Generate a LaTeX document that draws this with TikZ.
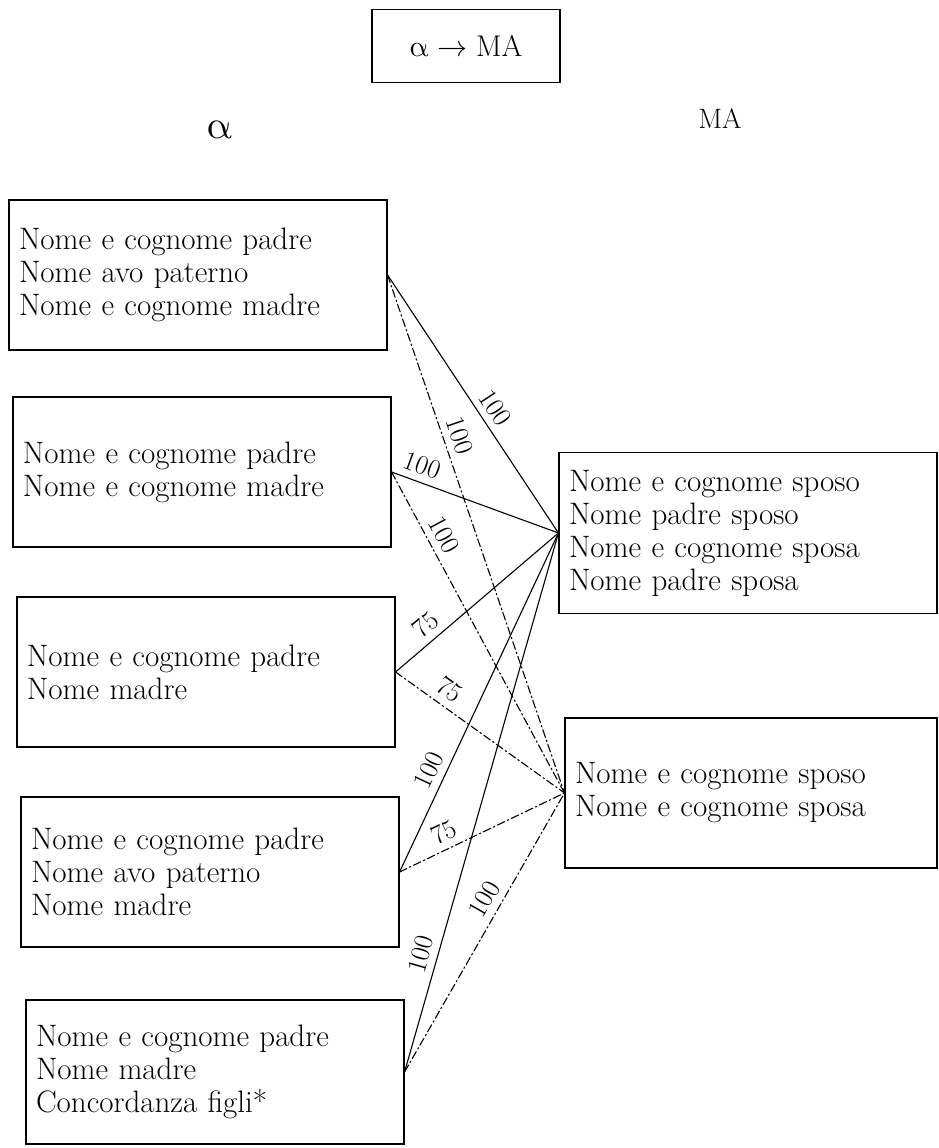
\documentclass[tikz,border=0pt]{standalone}
\usepackage{amsmath}
\usepackage{unicode-math}
\usepackage{tikz}

\tikzset{
  riquadro/.style={draw,line width=1.1pt,align=left,inner xsep=10pt,
                   minimum height=150pt,text width=358pt,
                   font=\fontsize{31}{33}\selectfont},
  legame/.style={line width=1.1pt},
  tratteggio/.style={legame,dash pattern=on 8pt off 3pt on 1.5pt off 3pt},
  peso/.style={sloped,above=6pt,inner sep=1pt,font=\fontsize{27}{29}\selectfont}
}

\begin{document}
\begin{tikzpicture}[x=1pt,y=-1pt,line cap=round]
  \useasboundingbox (0,0) rectangle (939,1148);
  % --- titolo e intestazioni ---
  \node[draw,line width=1.1pt,minimum width=188pt,minimum height=73pt,
        font=\fontsize{30}{33}\selectfont] (titolo) at (466,46)
        {$\upalpha\rightarrow\mathrm{MA}$};
  \node[font=\fontsize{40}{42}\selectfont] (alfa) at (220,130) {$\upalpha$};
  \node[font=\fontsize{28}{30}\selectfont] (ma) at (720,119) {MA};
  % --- campi di alfa (colonna sinistra) ---
  \node[riquadro] (l1) at (198,275)
        {Nome e cognome padre\\Nome avo paterno\\Nome e cognome madre};
  \node[riquadro] (l2) at (202,472)
        {Nome e cognome padre\\Nome e cognome madre};
  \node[riquadro] (l3) at (206,672)
        {Nome e cognome padre\\Nome madre};
  \node[riquadro] (l4) at (210,872)
        {Nome e cognome padre\\Nome avo paterno\\Nome madre};
  \node[riquadro,minimum height=144pt] (l5) at (215,1072)
        {Nome e cognome padre\\Nome madre\\Concordanza figli*};
  % --- campi di MA (colonna destra) ---
  \node[riquadro,minimum height=161pt] (ra) at (748,533)
        {Nome e cognome sposo\\Nome padre sposo\\Nome e cognome sposa\\Nome padre sposa};
  \node[riquadro,text width=352pt] (rb) at (751,793)
        {Nome e cognome sposo\\Nome e cognome sposa};
  % --- legami verso il primo campo (linea piena) ---
  \foreach \a/\p/\w in {l1/0.55/100,l2/0.15/100,l3/0.25/75,l4/0.28/100,l5/0.21/100}{
    \draw[legame] (\a.east) -- (ra.west) node[peso,pos=\p] {\w};
  }
  % --- legami verso il secondo campo (tratto e punto) ---
  \foreach \a/\p/\w in {l1/0.32/100,l2/0.22/100,l3/0.26/75,l4/0.31/75,l5/0.59/100}{
    \draw[tratteggio] (\a.east) -- (rb.west) node[peso,pos=\p] {\w};
  }
\end{tikzpicture}
\end{document}
